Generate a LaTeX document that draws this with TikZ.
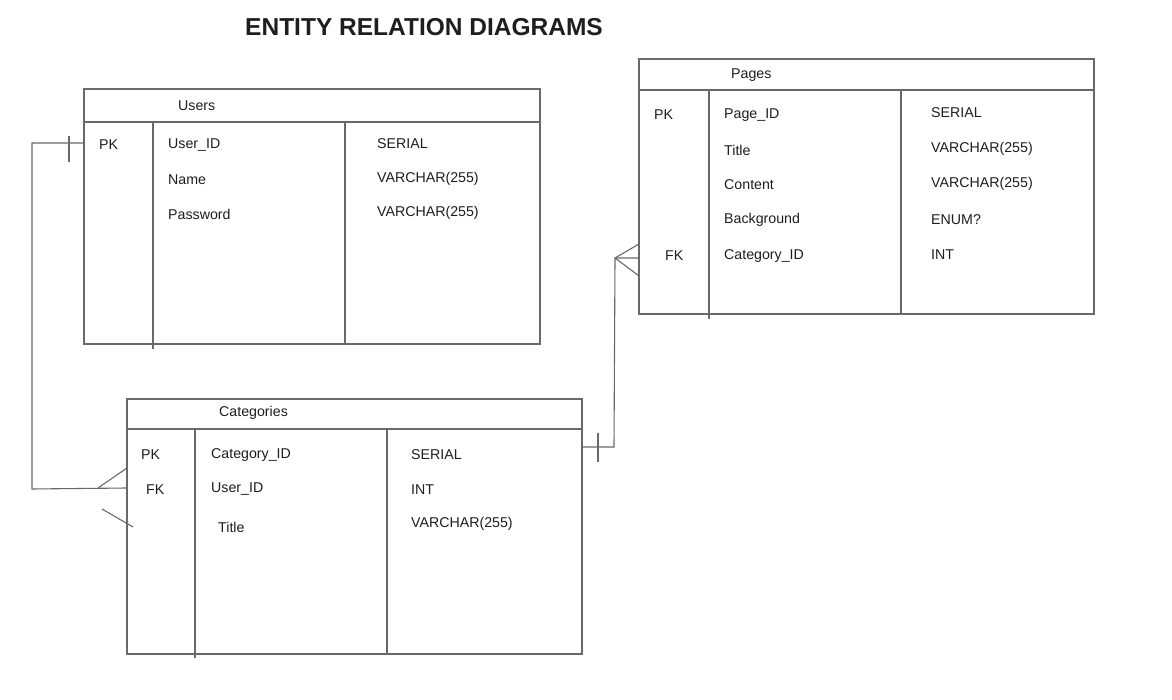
\documentclass[tikz,border=0pt]{standalone}
\usepackage{fontspec}
\setmainfont{Liberation Sans}
\usetikzlibrary{calc}
\definecolor{ln}{RGB}{105,105,105}
\definecolor{tx}{RGB}{30,30,30}
\tikzset{
  tbl/.style={draw=ln, line width=1.3pt, rectangle, inner sep=0pt, outer sep=0pt,
    minimum width=455pt, minimum height=255pt, anchor=north west},
  sep/.style={draw=ln, line width=1.2pt},
  conn/.style={draw=ln, line width=1.1pt},
  fld/.style={anchor=west, inner sep=0pt, text=tx, font=\fontsize{14.2}{17}\selectfont},
  hdr/.style={anchor=west, inner sep=0pt, text=tx, font=\fontsize{14.2}{17}\selectfont},
  ttl/.style={inner sep=0pt, text=tx, font=\fontsize{24.5}{30}\selectfont\bfseries}
}
\begin{document}
\begin{tikzpicture}[x=1pt,y=-1pt]
\useasboundingbox (0,0) rectangle (1172,700);
\fill[white] (0,0) rectangle (1172,700);

\node[ttl] (title) at (424,27) {ENTITY RELATION DIAGRAMS};

% ---------- Users ----------
\node[tbl, minimum width=456pt] (users) at (84,89) {};
\draw[sep] ($(users.north west)+(0,33)$) -- ($(users.north east)+(0,33)$);
\draw[sep] (153,122) -- (153,349);
\draw[sep] (345,122) -- (345,344);
\node[hdr] (uhdr) at (178,106) {Users};
\node[fld] (upk) at (99,145) {PK};
\node[fld] (u1) at (168,145) {User\_ID};
\node[fld] (u2) at (168,180) {Name};
\node[fld] (u3) at (168,214) {Password};
\node[fld] (ut1) at (377,144) {SERIAL};
\node[fld] (ut2) at (377,179) {VARCHAR(255)};
\node[fld] (ut3) at (377,213) {VARCHAR(255)};

% ---------- Categories ----------
\node[tbl] (cats) at (127,399) {};
\draw[sep] ($(cats.north west)+(0,30)$) -- ($(cats.north east)+(0,30)$);
\draw[sep] (195,429) -- (195,658);
\draw[sep] (387,429) -- (387,654);
\node[hdr] (chdr) at (219,413) {Categories};
\node[fld] (cpk) at (141,455) {PK};
\node[fld] (cfk) at (146,490) {FK};
\node[fld] (c1) at (211,455) {Category\_ID};
\node[fld] (c2) at (211,489) {User\_ID};
\node[fld] (c3) at (218,527) {Title};
\node[fld] (ct1) at (411,455) {SERIAL};
\node[fld] (ct2) at (411,490) {INT};
\node[fld] (ct3) at (411,524) {VARCHAR(255)};

% ---------- Pages ----------
\node[tbl] (pages) at (639,59) {};
\draw[sep] ($(pages.north west)+(0,31)$) -- ($(pages.north east)+(0,31)$);
\draw[sep] (709,90) -- (709,319);
\draw[sep] (901,90) -- (901,314);
\node[hdr] (phdr) at (731,75) {Pages};
\node[fld] (ppk) at (654,115) {PK};
\node[fld] (pfk) at (665,256) {FK};
\node[fld] (p1) at (724,115) {Page\_ID};
\node[fld] (p2) at (724,150) {Title};
\node[fld] (p3) at (724,185) {Content};
\node[fld] (p4) at (724,220) {Background};
\node[fld] (p5) at (724,256) {Category\_ID};
\node[fld] (pt1) at (931,113) {SERIAL};
\node[fld] (pt2) at (931,149) {VARCHAR(255)};
\node[fld] (pt3) at (931,184) {VARCHAR(255)};
\node[fld] (pt4) at (931,220) {ENUM?};
\node[fld] (pt5) at (931,255) {INT};

% ---------- Users -> Categories ----------
\coordinate (ua) at ($(users.north west)+(0,54)$);
\coordinate (cb) at ($(cats.north west)+(0,89)$);
\draw[conn] (ua) -- (32,143) -- (32,489) -- (cb);
\draw[conn] (69,136) -- (69,162);
\draw[conn] (98,488) -- ($(cats.north west)+(0,69)$);
\draw[conn] (102,509) -- (133,527);

% ---------- Categories -> Pages ----------
\coordinate (ca) at ($(cats.north east)+(0,48)$);
\coordinate (pb) at ($(pages.north west)+(0,199)$);
\draw[conn] (ca) -- (614,447) -- (615,258) -- (pb);
\draw[conn] (598,433) -- (598,462);
\draw[conn] (615,258) -- ($(pages.north west)+(0,185)$);
\draw[conn] (615,258) -- ($(pages.north west)+(0,217)$);
\end{tikzpicture}
\end{document}
